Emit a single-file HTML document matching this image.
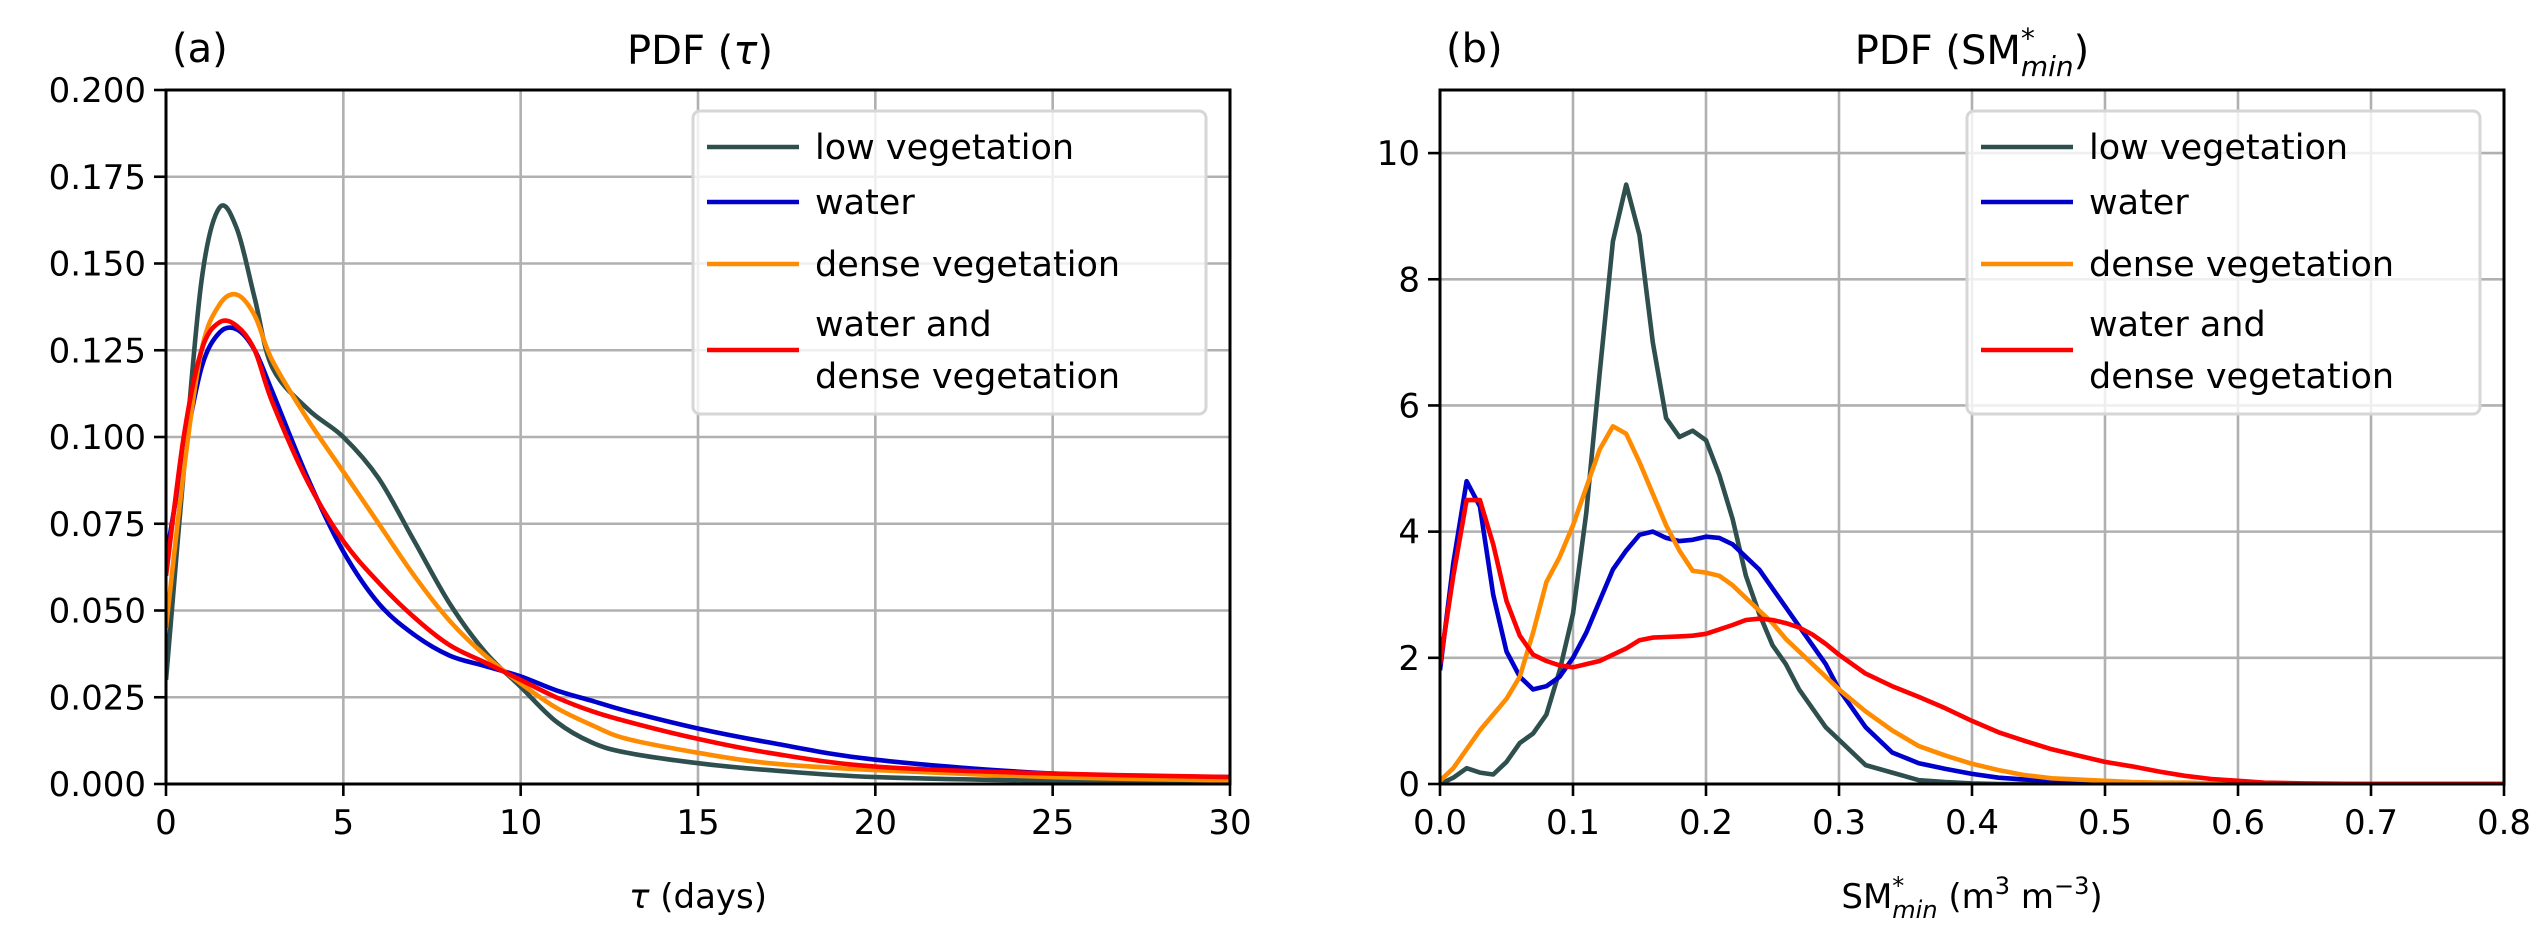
<!DOCTYPE html>
<html><head><meta charset="utf-8"><style>
html,body{margin:0;padding:0;background:#fff;}
svg{display:block;font-family:"DejaVu Sans","Liberation Sans",sans-serif;}
</style></head><body>
<svg id="fig" width="2544" height="942" viewBox="0 0 2544 942" xmlns="http://www.w3.org/2000/svg"></svg>
<script>
// ---- Panel (a) data ----
const tauX = [0,0.5,1,1.5,2,2.5,3,4,5,6,7,8,9,10,11,12,13,15,17,20,25,30];
const tauLow = [0.03,0.09,0.145,0.166,0.16,0.14,0.12,0.108,0.1,0.088,0.07,0.052,0.038,0.028,0.018,0.012,0.009,0.006,0.004,0.002,0.001,0.001];
const tauWater = [0.065,0.095,0.12,0.13,0.131,0.125,0.113,0.088,0.067,0.052,0.043,0.037,0.034,0.031,0.027,0.024,0.021,0.016,0.012,0.007,0.003,0.002];
const tauDense = [0.045,0.09,0.125,0.138,0.141,0.135,0.122,0.105,0.09,0.075,0.06,0.047,0.037,0.029,0.022,0.017,0.013,0.009,0.006,0.004,0.002,0.001];
const tauBoth = [0.06,0.1,0.125,0.133,0.132,0.125,0.11,0.087,0.07,0.058,0.048,0.04,0.035,0.03,0.025,0.021,0.018,0.013,0.009,0.005,0.003,0.002];
const tauXTicks = [0,5,10,15,20,25,30];
const tauYTicks = ["0.000","0.025","0.050","0.075","0.100","0.125","0.150","0.175","0.200"];
// ---- Panel (b) data ----
const smX = [0,.01,.02,.03,.04,.05,.06,.07,.08,.09,.1,.11,.12,.13,.14,.15,.16,.17,.18,.19,.2,.21,.22,.23,.24,.25,.26,.27,.28,.29,.3,.32,.34,.36,.38,.4,.42,.44,.46,.48,.5,.52,.54,.56,.58,.6,.62,.65,.7,.8];
const smLow = [0,.1,.25,.18,.15,.35,.65,.8,1.1,1.8,2.7,4.3,6.5,8.6,9.5,8.7,7.0,5.8,5.5,5.6,5.45,4.9,4.2,3.3,2.7,2.2,1.9,1.5,1.2,.9,.7,.3,.18,.06,.03,.01,0,0,0,0,0,0,0,0,0,0,0,0,0,0];
const smWater = [1.8,3.5,4.8,4.4,3.0,2.1,1.7,1.5,1.55,1.7,2.0,2.4,2.9,3.4,3.7,3.95,4.0,3.9,3.85,3.87,3.92,3.9,3.8,3.6,3.4,3.1,2.8,2.5,2.2,1.9,1.5,.9,.5,.33,.24,.16,.1,.07,.05,.04,.03,.02,.01,.01,0,0,0,0,0,0];
const smDense = [.05,.25,.55,.85,1.1,1.35,1.7,2.4,3.2,3.6,4.1,4.7,5.3,5.67,5.55,5.1,4.6,4.1,3.7,3.38,3.35,3.3,3.15,2.95,2.75,2.55,2.3,2.1,1.9,1.7,1.5,1.15,.85,.6,.45,.32,.22,.14,.09,.07,.05,.03,.02,.02,.01,.01,0,0,0,0];
const smBoth = [1.9,3.3,4.5,4.5,3.8,2.9,2.35,2.05,1.95,1.88,1.85,1.9,1.95,2.05,2.15,2.28,2.32,2.33,2.34,2.35,2.38,2.45,2.52,2.6,2.62,2.6,2.55,2.48,2.37,2.22,2.05,1.75,1.55,1.38,1.2,1.0,.82,.68,.55,.45,.35,.28,.2,.13,.08,.05,.02,.01,0,0];
const smXTicks = ["0.0","0.1","0.2","0.3","0.4","0.5","0.6","0.7","0.8"];
const smYTicks = [0,2,4,6,8,10];

const NS="http://www.w3.org/2000/svg";
const svg=document.getElementById('fig');
function mk(tag,attrs,parent){const e=document.createElementNS(NS,tag);for(const k in attrs)e.setAttribute(k,attrs[k]);(parent||svg).appendChild(e);return e;}
const COLORS={low:"#2f4f4f",water:"#0000cd",dense:"#ff8c00",both:"#ff0000"};

function smoothPath(pts){
  let d="M"+pts[0][0].toFixed(1)+","+pts[0][1].toFixed(1);
  for(let i=0;i<pts.length-1;i++){
    const p0=pts[Math.max(0,i-1)],p1=pts[i],p2=pts[i+1],p3=pts[Math.min(pts.length-1,i+2)];
    const c1=[p1[0]+(p2[0]-p0[0])/6,p1[1]+(p2[1]-p0[1])/6];
    const c2=[p2[0]-(p3[0]-p1[0])/6,p2[1]-(p3[1]-p1[1])/6];
    d+=" C"+c1[0].toFixed(1)+","+c1[1].toFixed(1)+" "+c2[0].toFixed(1)+","+c2[1].toFixed(1)+" "+p2[0].toFixed(1)+","+p2[1].toFixed(1);
  }
  return d;
}

function panel(o){
  const g=mk('g',{});
  
  
  const X=v=>o.x0+(v-o.xmin)/(o.xmax-o.xmin)*(o.x1-o.x0);
  const Y=v=>o.y1-(v-o.ymin)/(o.ymax-o.ymin)*(o.y1-o.y0);
  const defs=mk('defs',{},g);
  const cp=mk('clipPath',{id:o.name+'-clip'},defs);
  mk('rect',{x:o.x0,y:o.y0,width:o.x1-o.x0,height:o.y1-o.y0},cp);
  o.xticks.forEach(t=>{const v=+t;const gl=mk('line',{x1:X(v),x2:X(v),y1:o.y0,y2:o.y1,stroke:"#b0b0b0","stroke-width":2.6},g);
    });
  o.yticks.forEach(t=>{const v=+t;const gl=mk('line',{x1:o.x0,x2:o.x1,y1:Y(v),y2:Y(v),stroke:"#b0b0b0","stroke-width":2.6},g);
    });
  const cg=mk('g',{'clip-path':'url(#'+o.name+'-clip)'},g);
  o.series.forEach(s=>{
    const pts=o.xs.map((x,i)=>[X(x),Y(s.vals[i])]);
    const d=o.smooth?smoothPath(pts):"M"+pts.map(p=>p[0].toFixed(1)+","+p[1].toFixed(1)).join(" L");
    const p=mk('path',{d:d,fill:"none",stroke:s.color,"stroke-width":4.6,"stroke-linejoin":"round"},cg);
    
    
  });
  const fr=mk('rect',{x:o.x0,y:o.y0,width:o.x1-o.x0,height:o.y1-o.y0,fill:"none",stroke:"#000","stroke-width":3},g);
  
  o.xticks.forEach(t=>{const v=+t;mk('line',{x1:X(v),x2:X(v),y1:o.y1,y2:o.y1+12,stroke:"#000","stroke-width":2.6},g);
    const tx=mk('text',{x:X(v),y:o.y1+50,"font-size":34,"text-anchor":"middle"},g);tx.textContent=t;
    });
  o.yticks.forEach(t=>{const v=+t;mk('line',{x1:o.x0-12,x2:o.x0,y1:Y(v),y2:Y(v),stroke:"#000","stroke-width":2.6},g);
    const tx=mk('text',{x:o.x0-20,y:Y(v)+12,"font-size":34,"text-anchor":"end"},g);tx.textContent=t;
    });
  const lx=o.x1-537, ly=111;
  const lg=mk('g',{},g);
  
  mk('rect',{x:lx,y:ly,width:513,height:303,rx:7,fill:"#fff","fill-opacity":0.8,stroke:"#d6d6d6","stroke-width":3},lg);
  const rows=[{c:COLORS.low,y:147,t:["low vegetation"]},{c:COLORS.water,y:202,t:["water"]},{c:COLORS.dense,y:264,t:["dense vegetation"]},{c:COLORS.both,y:350,t:["water and","dense vegetation"]}];
  rows.forEach(r=>{
    const eg=mk('g',{},lg);
    
    mk('line',{x1:lx+14,x2:lx+106,y1:r.y,y2:r.y,stroke:r.c,"stroke-width":4.6},eg);
    r.t.forEach((s,i)=>{const tx=mk('text',{x:lx+122,y:r.y+12+(r.t.length>1?(i?26:-26):0),"font-size":35},eg);tx.textContent=s;});
  });
  return {X,Y};
}

panel({name:'panel-a',x0:166,x1:1230,y0:90,y1:784,xmin:0,xmax:30,ymin:0,ymax:0.2,smooth:true,
  xs:tauX,xticks:tauXTicks.map(String),yticks:tauYTicks,
  series:[{id:'low-vegetation',color:COLORS.low,vals:tauLow},{id:'water',color:COLORS.water,vals:tauWater},{id:'dense-vegetation',color:COLORS.dense,vals:tauDense},{id:'water-and-dense',color:COLORS.both,vals:tauBoth}]});
panel({name:'panel-b',x0:1440,x1:2504,y0:90,y1:784,xmin:0,xmax:0.8,ymin:0,ymax:11,smooth:false,
  xs:smX,xticks:smXTicks,yticks:smYTicks.map(String),
  series:[{id:'low-vegetation',color:COLORS.low,vals:smLow},{id:'water',color:COLORS.water,vals:smWater},{id:'dense-vegetation',color:COLORS.dense,vals:smDense},{id:'water-and-dense',color:COLORS.both,vals:smBoth}]});
</script>
<script>
(function(){
const NS="http://www.w3.org/2000/svg";const svg=document.getElementById('fig');
function t(x,y,size,html,name,anchor){const e=document.createElementNS(NS,'text');e.setAttribute('x',x);e.setAttribute('y',y);e.setAttribute('font-size',size);e.setAttribute('text-anchor',anchor||'start');e.innerHTML=html;


svg.appendChild(e);}
t(172,62,40,'(a)','panel-a-letter');
t(700,64,40,'PDF (<tspan font-style="italic">τ</tspan>)','panel-a-title','middle');
t(1446,62,40,'(b)','panel-b-letter');
t(1972,64,40,'PDF (SM<tspan font-size="28" dy="-16">*</tspan><tspan font-size="28" font-style="italic" dy="28" dx="-14">min</tspan><tspan dy="-12">)</tspan>','panel-b-title','middle');
t(698,908,34,'<tspan font-style="italic">τ</tspan> (days)','x-axis-title-a','middle');
t(1972,908,34,'SM<tspan font-size="24" dy="-14">*</tspan><tspan font-size="24" font-style="italic" dy="24" dx="-12">min</tspan><tspan dy="-10"> (m</tspan><tspan font-size="24" dy="-14">3</tspan><tspan dy="14"> m</tspan><tspan font-size="24" dy="-14">−3</tspan><tspan dy="14">)</tspan>','x-axis-title-b','middle');
})();
</script>
</body></html>
